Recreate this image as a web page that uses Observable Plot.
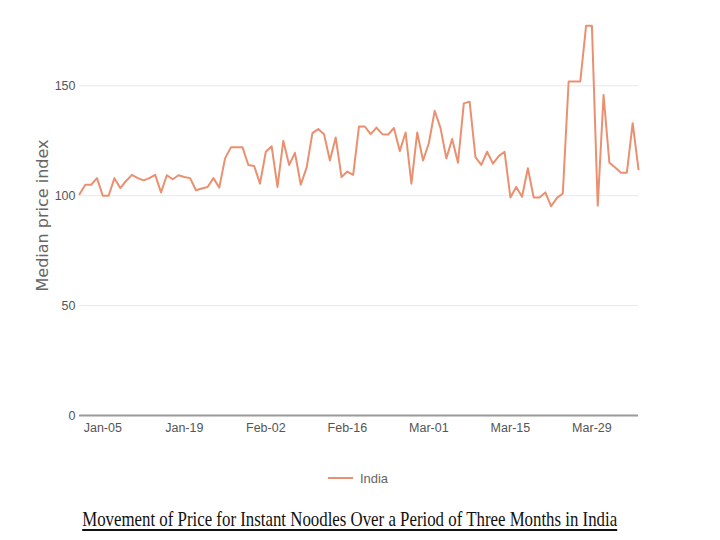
<!DOCTYPE html>
<html><head><meta charset="utf-8">
<script src="https://cdn.jsdelivr.net/npm/d3@7"></script>
<script src="https://cdn.jsdelivr.net/npm/@observablehq/plot@0.6"></script>
<style>
body{margin:0;background:#fff;width:720px;height:540px;overflow:hidden;position:relative}
#chart svg{display:block}
#legend{position:absolute;top:468px;left:0;width:716px;height:20px;display:flex;justify-content:center;align-items:center;font-family:"Liberation Sans",sans-serif;font-size:13px;color:#666}
#legend .sw{display:inline-block;width:25px;height:2px;background:#ea9070;margin-right:7px}
#cap{position:absolute;top:507px;left:0;width:699px;text-align:center}
#captext{display:inline-block;font-family:"Liberation Serif","Times New Roman",serif;font-size:21px;color:#111;text-decoration:underline;text-decoration-thickness:1.5px;text-underline-offset:3px;transform-origin:center;white-space:nowrap}
</style></head><body>
<div id="chart"></div>
<div id="legend"><span class="sw"></span><span id="legname"></span></div>
<div id="cap"><span id="captext"></span></div>
<script>
const seriesName = "India";
const yTitle = "Median price index";
const captionText = "Movement of Price for Instant Noodles Over a Period of Three Months in India";
const startDate = "2020-01-01";
const endDate = "2020-04-06";
const priceIndex = [
  100.7, 105, 105, 108, 100, 100, 108, 103.5, 106.7, 109.5,
  108, 107, 108, 109.5, 101.5, 109.3, 107.5, 109.3, 108.5, 108,
  102.5, 103.3, 104, 108, 103.7, 117, 122, 122, 122, 114,
  113.5, 105.5, 120, 122.5, 104, 125, 114, 119.5, 105, 112.8,
  128.5, 130.3, 128, 116, 126.5, 108.5, 111, 109.5, 131.5, 131.5,
  128, 131, 128, 127.8, 130.8, 120.3, 128.8, 105.5, 128.8, 116,
  124, 138.6, 130.8, 117, 125.8, 115, 142, 142.8, 117.6, 114,
  120, 114.6, 118, 120, 99.2, 104, 99.5, 112.5, 99.2, 99.2,
  101.5, 95.2, 99, 101, 152, 152, 152, 177.3, 177.3, 95.5,
  145.8, 115, 112.8, 110.5, 110.5, 133, 112
];
const xTickDates = ["2020-01-05","2020-01-19","2020-02-02","2020-02-16","2020-03-01","2020-03-15","2020-03-29"];
const yTicks = [0, 50, 100, 150];
const yGrid = [50, 100, 150];

const data = priceIndex.map((v, i) => ({date: d3.utcDay.offset(new Date(startDate), i), value: v}));

const plot = Plot.plot({
  width: 720, height: 450,
  marginLeft: 79, marginRight: 82, marginTop: 15, marginBottom: 35,
  style: {fontFamily: "Liberation Sans, sans-serif", fontSize: "12.5px", color: "#555", background: "#fff"},
  x: {type: "utc", domain: [new Date(startDate), new Date(endDate)], ticks: xTickDates.map(d => new Date(d)),
      tickFormat: d3.utcFormat("%b-%d"), tickSize: 0, tickPadding: 8, label: null},
  y: {domain: [0, 182], ticks: yTicks, tickSize: 0, tickPadding: 4, label: null},
  marks: [
    Plot.ruleY(yGrid, {stroke: "#e8e8e8", strokeWidth: 1}),
    Plot.ruleY([0], {stroke: "#9a9a9a", strokeWidth: 2}),
    Plot.lineY(data, {x: "date", y: "value", stroke: "#ea9070", strokeWidth: 2}),
    Plot.text([yTitle], {frameAnchor: "left", dx: -37, rotate: -90, textAnchor: "middle", fontSize: 16, fontFamily: "DejaVu Sans, sans-serif", fill: "#666", text: d => d})
  ]
});
document.getElementById("chart").appendChild(plot);
document.getElementById("legname").textContent = seriesName;
const cap = document.getElementById("captext");
cap.textContent = captionText;
const w = cap.getBoundingClientRect().width;
cap.style.transform = `scaleX(${535 / w})`;
</script>
</body></html>
